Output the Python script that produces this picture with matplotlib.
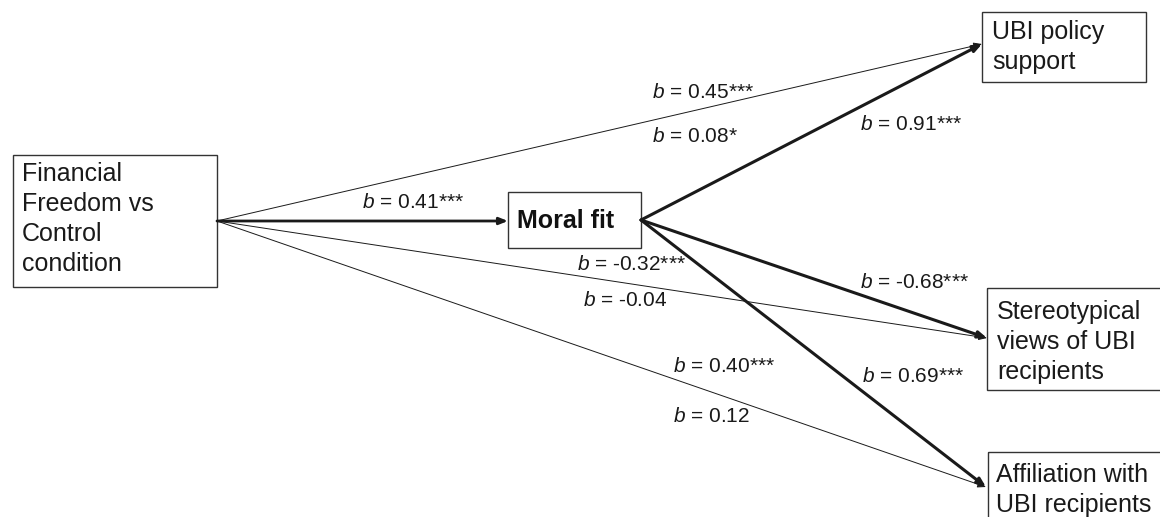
import matplotlib
matplotlib.use('Agg')
from matplotlib import pyplot as plt
from matplotlib.patches import Rectangle

plt.rcParams['font.family'] = ['Liberation Sans', 'DejaVu Sans']
plt.rcParams['mathtext.fontset'] = 'custom'
plt.rcParams['mathtext.it'] = 'Liberation Sans:italic'
plt.rcParams['mathtext.rm'] = 'Liberation Sans'

# node names
pred_name = 'Financial\nFreedom vs\nControl\ncondition'
med_name = 'Moral fit'
outcomes = ['UBI policy\nsupport', 'Stereotypical\nviews of UBI\nrecipients', 'Affiliation with\nUBI recipients']

# path coefficients
a_path = '0.41***'
b_paths = ['0.91***', '-0.68***', '0.69***']
total_paths = ['0.45***', '-0.32***', '0.40***']
direct_paths = ['0.08*', '-0.04', '0.12']

fig = plt.figure(figsize=(11.6, 5.17), dpi=100)
ax = fig.add_axes([0, 0, 1, 1])
ax.set_xlim(0, 1160)
ax.set_ylim(517, 0)
ax.axis('off')

def box(x0, y0, x1, y1):
    ax.add_patch(Rectangle((x0, y0), x1 - x0, y1 - y0, fill=False, ec='#333333', lw=1.0))

def arrow(p0, p1, lw):
    ax.annotate('', xy=p1, xytext=p0,
                arrowprops=dict(arrowstyle='-|>,head_length=0.5,head_width=0.2',
                                color='#1a1a1a', lw=lw, shrinkA=0, shrinkB=0))

def coef(x, y, val):
    ax.text(x, y, '$b$ = ' + val, fontsize=15, ha='left', va='center', color='#1a1a1a')

# boxes
box(13, 155, 217, 287)
box(508, 192, 641, 248)
box(982, 12, 1146, 82)
box(987, 288, 1175, 390)
box(988, 452, 1175, 530)

ax.text(22, 219, pred_name, fontsize=18, va='center', ha='left', linespacing=1.33, color='#1a1a1a')
ax.text(566, 221, med_name, fontsize=18, fontweight='bold', va='center', ha='center', color='#111111')
out_txt = [(992, 47), (997, 342), (996, 490)]
for (x, y), name in zip(out_txt, outcomes):
    ax.text(x, y, name, fontsize=18, va='center', ha='left', linespacing=1.33, color='#1a1a1a')

# arrows
src = (217, 221)
med_l = (508, 221)
med_r = (641, 220)
targets = [(982, 44), (987, 338), (986, 487)]

for t in targets:
    arrow(src, t, 0.7)
arrow(src, med_l, 2.0)
for t in targets:
    arrow(med_r, t, 2.2)

# labels
coef(362, 203, a_path)
b_pos = [(860, 125), (860, 283), (862, 377)]
tot_pos = [(652, 93), (577, 265), (673, 367)]
dir_pos = [(652, 137), (583, 300), (673, 417)]
for (x, y), v in zip(b_pos, b_paths):
    coef(x, y, v)
for (x, y), v in zip(tot_pos, total_paths):
    coef(x, y, v)
for (x, y), v in zip(dir_pos, direct_paths):
    coef(x, y, v)

fig.savefig('out.png', dpi=100)
